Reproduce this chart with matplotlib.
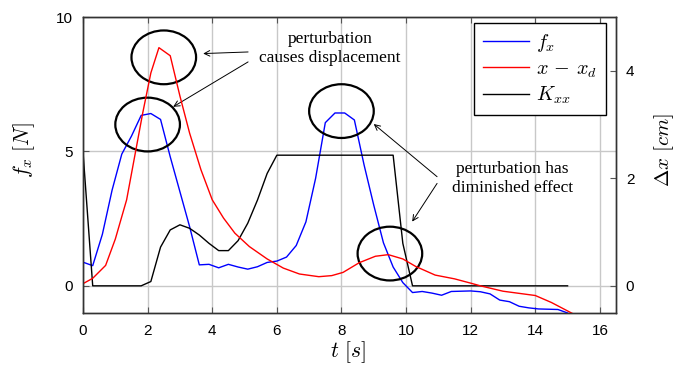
import matplotlib
matplotlib.use("Agg")
import matplotlib.pyplot as plt
from matplotlib.patches import Ellipse

plt.rcParams['mathtext.fontset'] = 'cm'
plt.rcParams['font.family'] = ['Liberation Sans', 'DejaVu Sans']

# ---------------- data ----------------
t_f = [0, 0.3, 0.6, 0.9, 1.2, 1.5, 1.8, 2.1, 2.4, 2.7, 3.0, 3.3, 3.6, 3.9, 4.2, 4.5,
       4.8, 5.1, 5.4, 5.7, 6.0, 6.3, 6.6, 6.9, 7.2, 7.5, 7.8, 8.1, 8.4, 8.7, 9.0, 9.3,
       9.6, 9.9, 10.2, 10.5, 10.8, 11.1, 11.4, 11.7, 12.0, 12.3, 12.6, 12.9, 13.2,
       13.5, 13.8, 14.1, 14.4, 14.7, 15.0]
f_x = [0.88, 0.75, 1.92, 3.56, 4.9, 5.57, 6.34, 6.41, 6.19, 4.8, 3.5, 2.2, 0.78, 0.8,
       0.67, 0.8, 0.7, 0.62, 0.71, 0.87, 0.92, 1.07, 1.5, 2.38, 4.0, 6.07, 6.43, 6.43,
       6.17, 4.5, 3.0, 1.6, 0.7, 0.12, -0.25, -0.21, -0.27, -0.35, -0.21, -0.2, -0.19,
       -0.22, -0.3, -0.53, -0.59, -0.76, -0.82, -0.86, -0.87, -0.88, -1.01]

t_dx = [0, 0.3, 0.7, 1.0, 1.35, 1.6, 1.85, 2.1, 2.35, 2.7, 3.0, 3.3, 3.65, 4.0, 4.35,
        4.7, 5.15, 5.7, 6.2, 6.7, 7.3, 7.7, 8.05, 8.55, 9.05, 9.45, 9.9, 10.3, 10.9,
        11.5, 12.0, 12.3, 13.0, 14.0, 14.5, 15.2]
dx = [0.04, 0.14, 0.38, 0.87, 1.6, 2.41, 3.22, 3.96, 4.43, 4.28, 3.53, 2.84, 2.16, 1.6,
      1.26, 0.98, 0.73, 0.5, 0.33, 0.22, 0.17, 0.19, 0.25, 0.43, 0.55, 0.58, 0.5, 0.36,
      0.2, 0.13, 0.05, 0.0, -0.1, -0.18, -0.31, -0.53]

t_k = [0, 0.3, 1.8, 2.1, 2.4, 2.7, 3.0, 3.3, 3.6, 3.9, 4.2, 4.5, 4.8, 5.1, 5.4, 5.7,
       6.0, 9.6, 9.9, 10.2, 15.0]
k_xx = [4.98, 0, 0, 0.16, 1.44, 2.08, 2.27, 2.14, 1.89, 1.58, 1.31, 1.31, 1.68, 2.33,
        3.19, 4.18, 4.86, 4.86, 1.58, 0, 0]

x_ticks = [0, 2, 4, 6, 8, 10, 12, 14, 16]
yl_ticks = [0, 5, 10]
yr_ticks = [0, 2, 4]

# ellipse centres (t, f_x units)
ell_centers = [(2.5, 8.5), (2.0, 6.0), (8.0, 6.5), (9.5, 1.2)]

# ---------------- figure ----------------
fig = plt.figure(figsize=(6.76, 3.66), dpi=100)
ax = fig.add_axes([0.1228, 0.1456, 0.7885, 0.8079])
ax2 = ax.twinx()

l1, = ax.plot(t_f, f_x, color='#0000ff', lw=1.0, label=r'$f_x$', zorder=3)
l3, = ax.plot(t_k, k_xx, color='black', lw=1.0, label=r'$K_{xx}$', zorder=3)
l2, = ax2.plot(t_dx, dx, color='#ff0000', lw=1.0, label=r'$x\,-\,x_d$')

ax.set_xlim(0, 16.5)
ax.set_ylim(-1, 10)
ax2.set_ylim(-0.5, 5)
ax.set_xticks(x_ticks)
ax.set_yticks(yl_ticks)
ax2.set_yticks(yr_ticks)

ax.grid(True, color='#c8c8c8', lw=1.0)
ax.set_axisbelow(True)

for a in (ax, ax2):
    for s in a.spines.values():
        s.set_color('#333333')
        s.set_linewidth(1.0)
    a.tick_params(direction='in', length=4, width=0.8, color='#555555',
                  labelsize=11, pad=7)
ax.tick_params(axis='x', top=True, pad=8)

ax.set_xlabel(r'$t\ [s]$', fontsize=15.5)
ax.set_ylabel(r'$f_x\ [N]$', fontsize=15.5)
ax2.set_ylabel(r'$\Delta x\ [cm]$', fontsize=15)
ax.xaxis.set_label_coords(0.497, -0.09)
ax.yaxis.set_label_coords(-0.086, 0.55)
ax2.yaxis.set_label_coords(1.067, 0.55)

for c in ell_centers:
    ax.add_patch(Ellipse(c, 2.0, 2.0, fill=False, ec='black', lw=1.6, zorder=4))

serif = ['Liberation Serif', 'DejaVu Serif']
ax.text(7.64, 8.84, 'perturbation\ncauses displacement', ha='center', va='center',
        fontsize=12.5, family=serif, linespacing=1.25, zorder=5)
ax.text(13.3, 4.0, 'perturbation has\ndiminished effect', ha='center', va='center',
        fontsize=12.5, family=serif, linespacing=1.25, zorder=5)

ap = dict(arrowstyle='->', lw=0.7, color='black', shrinkA=0, shrinkB=0)
ax.annotate('', xy=(3.72, 8.64), xytext=(5.11, 8.7), arrowprops=ap, zorder=5)
ax.annotate('', xy=(2.79, 6.66), xytext=(5.11, 8.33), arrowprops=ap, zorder=5)
ax.annotate('', xy=(9.0, 6.02), xytext=(10.96, 4.06), arrowprops=ap, zorder=5)
ax.annotate('', xy=(10.19, 2.39), xytext=(10.96, 3.81), arrowprops=ap, zorder=5)

leg = ax2.legend(handles=[l1, l2, l3], loc='upper right', bbox_to_anchor=(0.981, 0.979),
                 borderaxespad=0, fontsize=14.5, fancybox=False, framealpha=1,
                 edgecolor='black', handlelength=2.3, handletextpad=0.35,
                 borderpad=0.45, labelspacing=0.25)
leg.get_frame().set_linewidth(1.0)

fig.savefig('out.png', dpi=100)
